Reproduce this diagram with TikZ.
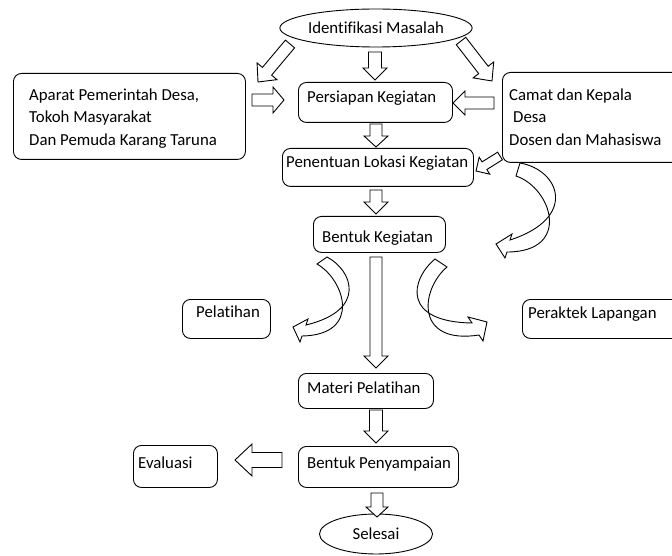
\documentclass[tikz,border=0pt]{standalone}
\usepackage{fontspec}
\setmainfont[Ligatures=NoCommon]{Carlito}
\usetikzlibrary{calc,shapes.geometric}
\tikzset{
  lw/.style={line width=0.9pt, draw=black},
  box/.style={lw, rounded corners=8pt, inner sep=0pt, anchor=north west, fill=white},
  oval/.style={lw, ellipse, inner sep=0pt, font=\fontsize{16.8}{20}\selectfont},
  txt/.style={font=\fontsize{16.8}{20}\selectfont, inner sep=0pt, anchor=base west},
  barrowstyle/.style={lw, fill=white, line join=miter},
  curv/.style={lw, fill=white, line join=miter},
}
\newcommand\barrow[5]{%
  \path[barrowstyle] let \p1=(#1), \p2=(#2),
    \n1={atan2(\y2-\y1,\x2-\x1)}, \n2={veclen(\x2-\x1,\y2-\y1)} in
    [shift={(\p1)}, rotate=\n1]
    (0pt,-#3pt) -- ({\n2*1pt-#5pt},-#3pt) -- ({\n2*1pt-#5pt},-#4pt) -- ({\n2*1pt},0pt)
    -- ({\n2*1pt-#5pt},#4pt) -- ({\n2*1pt-#5pt},#3pt) -- (0pt,#3pt) -- cycle;
}
\begin{document}
\begin{tikzpicture}[x=1pt,y=-1pt]
\useasboundingbox (0,0) rectangle (672,556);
\clip (0,0) rectangle (672,556);
% nodes
\node[oval, minimum width=182pt, minimum height=38pt] (ident) at (376,28) {Identifikasi Masalah};
\node[box, minimum width=232pt, minimum height=86pt] (left) at (13,73) {};
\node[txt] (l1) at (29,100.5) {Aparat Pemerintah Desa,};
\node[txt] (l2) at (29,123) {Tokoh Masyarakat};
\node[txt] (l3) at (29,145.5) {Dan Pemuda Karang Taruna};
\node[box, minimum width=190pt, minimum height=90pt] (right) at (502,72) {};
\node[txt] (r1) at (509,100.5) {Camat dan Kepala};
\node[txt] (r2) at (513,122.5) {Desa};
\node[txt] (r3) at (509,145.5) {Dosen dan Mahasiswa};
\node[box, minimum width=154pt, minimum height=40pt] (persiapan) at (298,82) {};
\node[txt] (tpersiapan) at (307,102.5) {Persiapan Kegiatan};
\node[box, minimum width=191pt, minimum height=38pt] (penentuan) at (282,148) {};
\node[txt] (tpenentuan) at (286,167.5) {Penentuan Lokasi Kegiatan};
\node[box, minimum width=132pt, minimum height=36pt] (bentuk) at (313,216) {};
\node[txt] (tbentuk) at (322,242.5) {Bentuk Kegiatan};
\node[box, minimum width=88pt, minimum height=39pt] (pelatihan) at (182,299) {};
\node[txt] (tpelatihan) at (196,317) {Pelatihan};
\node[box, minimum width=170pt, minimum height=39pt] (peraktek) at (522,299) {};
\node[txt] (tperaktek) at (528,318.5) {Peraktek Lapangan};
\node[box, minimum width=135pt, minimum height=35pt] (materi) at (298,373) {};
\node[txt] (tmateri) at (307,393.5) {Materi Pelatihan};
\node[box, minimum width=160pt, minimum height=41pt] (penyampaian) at (298,446) {};
\node[txt] (tpenyampaian) at (307,468.5) {Bentuk Penyampaian};
\node[box, minimum width=84pt, minimum height=42pt] (evaluasi) at (133,445) {};
\node[txt] (tevaluasi) at (138,468.5) {Evaluasi};
\node[oval, minimum width=113pt, minimum height=40pt] (selesai) at (376,534) {Selesai};
% arrow end points
\coordinate (a1s) at (375,52);  \coordinate (a1e) at (375,80);
\coordinate (a2s) at (290,44);  \coordinate (a2e) at (258,82);
\coordinate (a3s) at (461,41);  \coordinate (a3e) at (492,81);
\coordinate (a4s) at (252,100); \coordinate (a4e) at (284,100);
\coordinate (a5s) at (494,103); \coordinate (a5e) at (453,103);
\coordinate (a6s) at (500,156); \coordinate (a6e) at (476,171);
\coordinate (a7s) at (376,124); \coordinate (a7e) at (376,147);
\coordinate (a8s) at (376,190); \coordinate (a8e) at (376,214);
\coordinate (a9s) at (376,257); \coordinate (a9e) at (376,368);
\coordinate (a10s) at (376,410); \coordinate (a10e) at (376,443);
\coordinate (a11s) at (377,493); \coordinate (a11e) at (377,517);
\coordinate (a12s) at (282,460); \coordinate (a12e) at (235,460);
% straight block arrows
\barrow{a1s}{a1e}{6.5}{12}{12}
\barrow{a2s}{a2e}{6}{13}{14}
\barrow{a3s}{a3e}{6}{13}{14}
\barrow{a4s}{a4e}{6}{13}{11}
\barrow{a5s}{a5e}{6}{12}{12}
\barrow{a6s}{a6e}{4.5}{10}{10}
\barrow{a7s}{a7e}{6}{12}{11}
\barrow{a8s}{a8e}{6}{12}{12}
\barrow{a9s}{a9e}{6}{12}{12}
\barrow{a10s}{a10e}{6.5}{12}{12}
\barrow{a11s}{a11e}{6}{11}{10}
\barrow{a12s}{a12e}{7.5}{16}{17}
% curved block arrows
\draw[curv] (520,163) .. controls (560,170) and (578,218) .. (510,240) -- (512,234) -- (496,244) -- (505,258) -- (507,252)
  .. controls (572,252) and (552,188) .. (516,176) -- cycle;
\draw[curv] (327,257) .. controls (352,270) and (368,310) .. (306,325) -- (308,319) -- (293,327) -- (300,342) -- (302,336)
  .. controls (362,335) and (345,280) .. (317,264) -- cycle;
\draw[curv] (435,259) .. controls (410,280) and (402,322) .. (472,323) -- (468,317) -- (487,322) -- (483,341) -- (479,335)
  .. controls (415,345) and (420,290) .. (447,267) -- cycle;
\end{tikzpicture}
\end{document}
